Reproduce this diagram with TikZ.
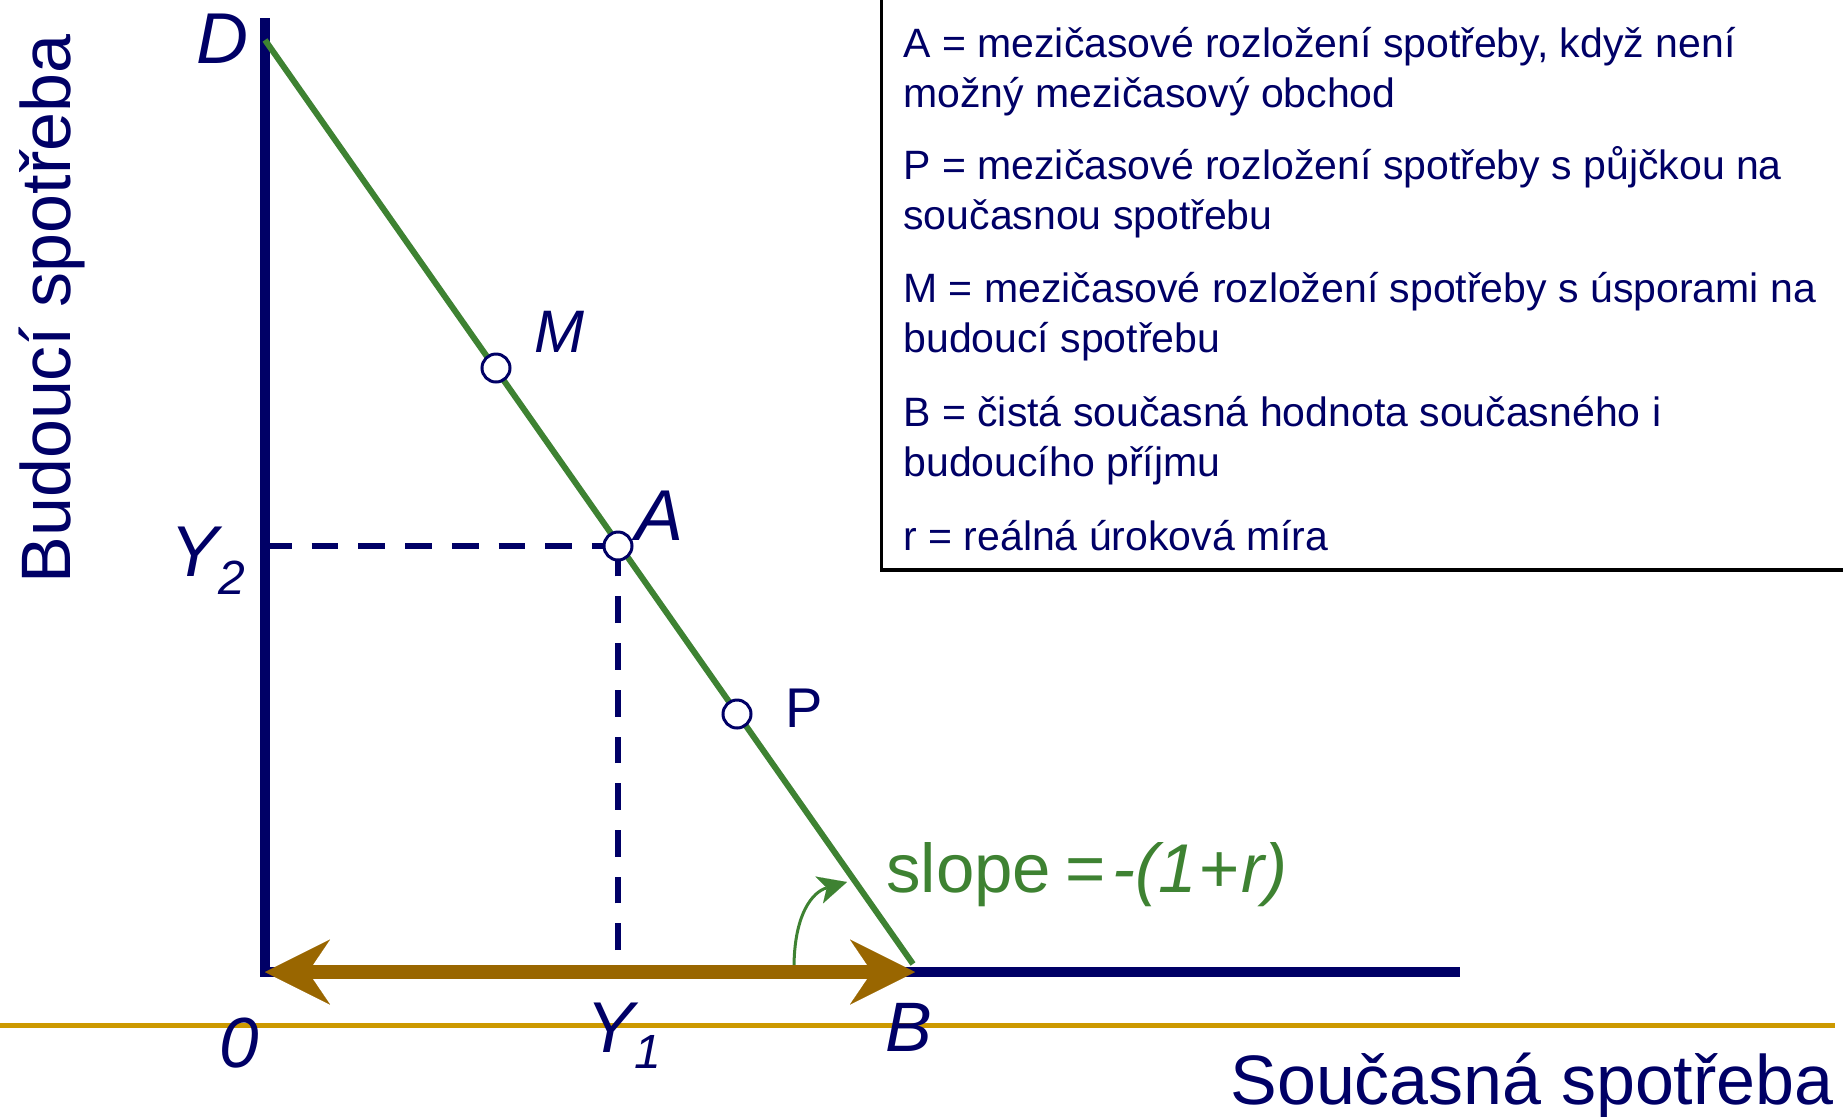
\documentclass[tikz,border=0pt]{standalone}
\usepackage{fontspec}
\setmainfont{Liberation Sans}
\usetikzlibrary{arrows.meta}
\definecolor{navy}{HTML}{000066}
\definecolor{lgreen}{HTML}{3E8232}
\definecolor{goldline}{HTML}{CC9900}
\definecolor{arrowbrown}{HTML}{996600}
\tikzset{
  bigtip/.tip={Stealth[length=32.5pt, width=32.5pt, inset=11pt, line width=0.01pt]},
  smalltip/.tip={Stealth[length=14.5pt, width=14pt, inset=4pt, line width=0.01pt]},
}
\begin{document}
\begin{tikzpicture}[x=0.5pt, y=-0.5pt,
  axis/.style={draw=navy, line width=4.75pt, line join=miter},
  budget/.style={draw=lgreen, line width=3pt},
  guide/.style={draw=navy, line width=3.3pt, dash pattern=on 13.35pt off 10pt},
  pt/.style={circle, draw=navy, fill=white, line width=1.5pt, minimum size=14pt, inner sep=0pt},
  lab/.style={text=navy, inner sep=0pt, font=\fontsize{36}{43}\selectfont\itshape},
  legend/.style={anchor=base west, inner sep=0pt, text=navy, font=\fontsize{20.5}{24}\selectfont},
]
\useasboundingbox (0,0) rectangle (1843,1116);
% coordinates
\coordinate (Ytop) at (265,18);
\coordinate (O) at (265,972);
\coordinate (Xend) at (1460,972);
\coordinate (D) at (265,40);
\coordinate (Bp) at (913,964);
\coordinate (Bt) at (915,972);
\coordinate (G1) at (0,1025);
\coordinate (G2) at (1835,1025);
\coordinate (Y2foot) at (265,546);
\coordinate (Y1foot) at (618,950);
\coordinate (Cs) at (794,968);
\coordinate (Ce) at (847,882);
\coordinate (L1) at (881.5,-10);
\coordinate (L2) at (881.5,570);
\coordinate (L3) at (1860,570);

% gold line
\draw[goldline, line width=2.5pt] (G1) -- (G2);
% axes
\draw[axis] (Ytop) -- (O) -- (Xend);
% point positions
\coordinate (M) at (496,368);
\coordinate (A) at (618,546);
\coordinate (P) at (737,714);
% dashed guides
\draw[guide] (Y2foot) -- (A);
\draw[guide] (Y1foot) -- (A);
% budget line
\draw[budget] (D) -- (Bp);
% curved slope arrow
\draw[lgreen, line width=1.5pt, -{smalltip}] (Cs) .. controls (794,915) and (812,892) .. (Ce);
% brown double arrow
\draw[arrowbrown, line width=6.75pt, {bigtip}-{bigtip}] (O) -- (Bt);
% point markers
\node[pt] (Mc) at (M) {};
\node[pt] (Ac) at (A) {};
\node[pt] (Pc) at (P) {};

% labels
\node[lab] (Dl) at (222,39) {D};
\node[lab, font=\fontsize{30}{36}\selectfont\itshape] (Ml) at (559,332) {M};
\node[lab] (Al) at (660,516) {A};
\node[lab, font=\fontsize{28}{34}\selectfont] (Pl) at (804,708) {P};
\node[lab, font=\fontsize{35}{42}\selectfont\itshape] (Bl) at (909,1027) {B};
\node[lab, anchor=base, font=\fontsize{35.5}{42}\selectfont\itshape] (Ol) at (239,1067) {0};
\node[lab, anchor=base west] (Y2l) at (170,576) {Y\raisebox{-9pt}{\fontsize{24}{29}\selectfont 2}};
\node[lab, anchor=base west] (Y1l) at (586,1052) {Y\raisebox{-8pt}{\fontsize{24}{29}\selectfont 1}};

\node[anchor=base west, inner sep=0pt, text=lgreen, font=\fontsize{34.5}{41}\selectfont] (slope) at (886,892) {slope\kern7pt=\kern3.5pt\textit{-(1\kern1pt+\kern1pt r)}};

\node[anchor=base east, inner sep=0pt, text=navy, font=\fontsize{35}{42}\selectfont] (xt) at (1834,1104) {Současná spotřeba};
\node[rotate=90, anchor=base, inner sep=0pt, text=navy, font=\fontsize{35}{42}\selectfont] (yt) at (70,309) {Budoucí spotřeba};

% legend box
\draw[black, line width=1.75pt] (L1) -- (L2) -- (L3);
\node[legend] (t1) at (903,57) {A = mezičasové rozložení spotřeby, když není};
\node[legend] (t2) at (903,107) {možný mezičasový obchod};
\node[legend] (t3) at (903,179) {P = mezičasové rozložení spotřeby s půjčkou na};
\node[legend] (t4) at (903,229) {současnou spotřebu};
\node[legend] (t5) at (903,302) {M = mezičasové rozložení spotřeby s úsporami na};
\node[legend] (t6) at (903,352) {budoucí spotřebu};
\node[legend] (t7) at (903,426) {B = čistá současná hodnota současného i};
\node[legend] (t8) at (903,476) {budoucího příjmu};
\node[legend] (t9) at (903,550) {r = reálná úroková míra};
\end{tikzpicture}
\end{document}
